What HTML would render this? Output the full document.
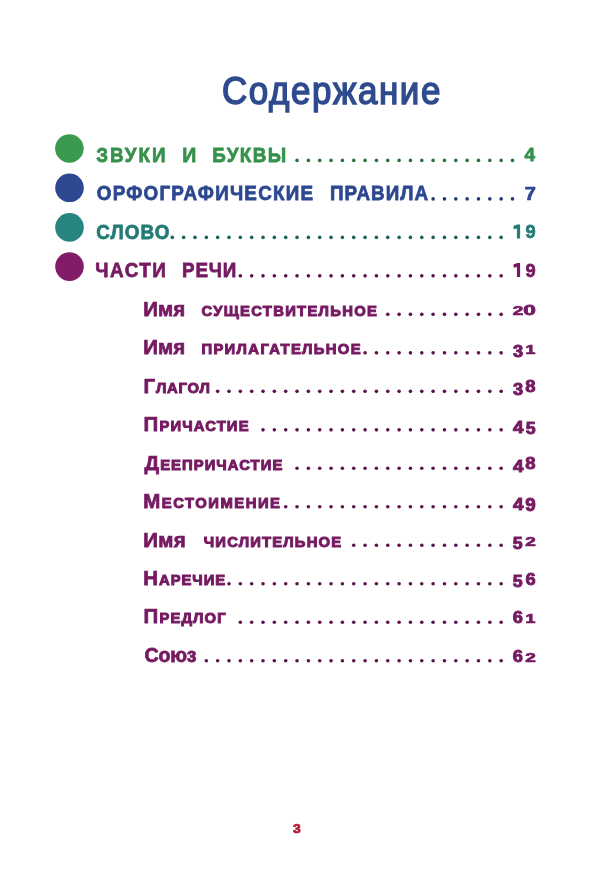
<!DOCTYPE html>
<html><head><meta charset="utf-8"><title>Содержание</title>
<style>html,body{margin:0;padding:0;background:#fff;}body{width:600px;height:882px;position:relative;overflow:hidden;font-family:"Liberation Sans",sans-serif;}</style>
</head><body>
<svg width="600" height="882" viewBox="0 0 600 882" style="position:absolute;left:0;top:0;will-change:transform"><text transform="translate(222,104) scale(0.92,1)" x="0" y="0" font-family="Liberation Sans" font-size="38" letter-spacing="1.7" fill="#2e4b8e" stroke="#2e4b8e" stroke-width="1.5">Содержание</text><circle cx="69.4" cy="148.5" r="14.3" fill="#3a9a50"/><circle cx="69.5" cy="187.8" r="14.3" fill="#2d4890"/><circle cx="69.5" cy="227.4" r="14.3" fill="#27847f"/><circle cx="69.5" cy="266.6" r="14.3" fill="#821c68"/><text transform="translate(96.30,161.60) scale(0.9200,1)" letter-spacing="2.087" fill="#35914b" stroke="#35914b" stroke-width="0.75" font-family="Liberation Sans" font-weight="bold"><tspan font-size="20.5">ЗВУКИ</tspan></text><text transform="translate(182.35,161.60) scale(0.9538,1)" letter-spacing="0.000" fill="#35914b" stroke="#35914b" stroke-width="0.75" font-family="Liberation Sans" font-weight="bold"><tspan font-size="20.5">И</tspan></text><text transform="translate(212.28,161.60) scale(0.9200,1)" letter-spacing="1.511" fill="#35914b" stroke="#35914b" stroke-width="0.75" font-family="Liberation Sans" font-weight="bold"><tspan font-size="20.5">БУКВЫ</tspan></text><text transform="translate(96.80,200.09) scale(0.9200,1)" letter-spacing="1.326" fill="#2d4890" stroke="#2d4890" stroke-width="0.75" font-family="Liberation Sans" font-weight="bold"><tspan font-size="20.5">ОРФОГРАФИЧЕСКИЕ</tspan></text><text transform="translate(329.98,200.09) scale(0.9200,1)" letter-spacing="1.091" fill="#2d4890" stroke="#2d4890" stroke-width="0.75" font-family="Liberation Sans" font-weight="bold"><tspan font-size="20.5">ПРАВИЛА</tspan></text><text transform="translate(96.20,238.58) scale(0.9200,1)" letter-spacing="1.201" fill="#237c76" stroke="#237c76" stroke-width="0.75" font-family="Liberation Sans" font-weight="bold"><tspan font-size="20.5">СЛОВО</tspan></text><text transform="translate(95.28,277.07) scale(0.9200,1)" letter-spacing="1.614" fill="#751a62" stroke="#751a62" stroke-width="0.75" font-family="Liberation Sans" font-weight="bold"><tspan font-size="20.5">ЧАСТИ</tspan></text><text transform="translate(182.08,277.07) scale(0.9200,1)" letter-spacing="0.870" fill="#751a62" stroke="#751a62" stroke-width="0.75" font-family="Liberation Sans" font-weight="bold"><tspan font-size="20.5">РЕЧИ</tspan></text><text transform="translate(143.30,315.56) scale(1.0000,1)" letter-spacing="0.000" fill="#751a62" stroke="#751a62" stroke-width="0.75" font-family="Liberation Sans" font-weight="bold"><tspan font-size="20.5">Имя</tspan></text><text transform="translate(201.40,315.56) scale(1.0000,1)" letter-spacing="1.293" fill="#751a62" stroke="#751a62" stroke-width="0.75" font-family="Liberation Sans" font-weight="bold"><tspan font-size="14.8" stroke-width="1.0">СУЩЕСТВИТЕЛЬНОЕ</tspan></text><text transform="translate(143.30,354.05) scale(1.0000,1)" letter-spacing="0.000" fill="#751a62" stroke="#751a62" stroke-width="0.75" font-family="Liberation Sans" font-weight="bold"><tspan font-size="20.5">Имя</tspan></text><text transform="translate(201.40,354.05) scale(1.0000,1)" letter-spacing="1.354" fill="#751a62" stroke="#751a62" stroke-width="0.75" font-family="Liberation Sans" font-weight="bold"><tspan font-size="14.8" stroke-width="1.0">ПРИЛАГАТЕЛЬНОЕ</tspan></text><text transform="translate(143.50,392.54) scale(1.0000,1)" letter-spacing="0.780" fill="#751a62" stroke="#751a62" stroke-width="0.75" font-family="Liberation Sans" font-weight="bold"><tspan font-size="20.5">Г</tspan><tspan font-size="14.8" stroke-width="1.0">ЛАГОЛ</tspan></text><text transform="translate(143.50,431.03) scale(1.0000,1)" letter-spacing="1.150" fill="#751a62" stroke="#751a62" stroke-width="0.75" font-family="Liberation Sans" font-weight="bold"><tspan font-size="20.5">П</tspan><tspan font-size="14.8" stroke-width="1.0">РИЧАСТИЕ</tspan></text><text transform="translate(144.50,469.52) scale(1.0000,1)" letter-spacing="1.064" fill="#751a62" stroke="#751a62" stroke-width="0.75" font-family="Liberation Sans" font-weight="bold"><tspan font-size="20.5">Д</tspan><tspan font-size="14.8" stroke-width="1.0">ЕЕПРИЧАСТИЕ</tspan></text><text transform="translate(143.20,508.01) scale(1.0000,1)" letter-spacing="1.530" fill="#751a62" stroke="#751a62" stroke-width="0.75" font-family="Liberation Sans" font-weight="bold"><tspan font-size="20.5">М</tspan><tspan font-size="14.8" stroke-width="1.0">ЕСТОИМЕНИЕ</tspan></text><text transform="translate(143.30,546.50) scale(1.0000,1)" letter-spacing="0.250" fill="#751a62" stroke="#751a62" stroke-width="0.75" font-family="Liberation Sans" font-weight="bold"><tspan font-size="20.5">Имя</tspan></text><text transform="translate(203.75,546.50) scale(1.0000,1)" letter-spacing="1.177" fill="#751a62" stroke="#751a62" stroke-width="0.75" font-family="Liberation Sans" font-weight="bold"><tspan font-size="14.8" stroke-width="1.0">ЧИСЛИТЕЛЬНОЕ</tspan></text><text transform="translate(143.20,584.99) scale(1.0000,1)" letter-spacing="0.967" fill="#751a62" stroke="#751a62" stroke-width="0.75" font-family="Liberation Sans" font-weight="bold"><tspan font-size="20.5">Н</tspan><tspan font-size="14.8" stroke-width="1.0">АРЕЧИЕ</tspan></text><text transform="translate(143.50,623.48) scale(1.0000,1)" letter-spacing="1.133" fill="#751a62" stroke="#751a62" stroke-width="0.75" font-family="Liberation Sans" font-weight="bold"><tspan font-size="20.5">П</tspan><tspan font-size="14.8" stroke-width="1.0">РЕДЛОГ</tspan></text><text transform="translate(144.50,661.97) scale(0.9600,1)" letter-spacing="-0.278" fill="#751a62" stroke="#751a62" stroke-width="0.75" font-family="Liberation Sans" font-weight="bold"><tspan font-size="20.5">Союз</tspan></text><circle cx="297.04" cy="160.40" r="1.8" fill="#2a743c"/><circle cx="308.38" cy="160.40" r="1.8" fill="#2a743c"/><circle cx="319.72" cy="160.40" r="1.8" fill="#2a743c"/><circle cx="331.06" cy="160.40" r="1.8" fill="#2a743c"/><circle cx="342.40" cy="160.40" r="1.8" fill="#2a743c"/><circle cx="353.74" cy="160.40" r="1.8" fill="#2a743c"/><circle cx="365.08" cy="160.40" r="1.8" fill="#2a743c"/><circle cx="376.42" cy="160.40" r="1.8" fill="#2a743c"/><circle cx="387.76" cy="160.40" r="1.8" fill="#2a743c"/><circle cx="399.10" cy="160.40" r="1.8" fill="#2a743c"/><circle cx="410.44" cy="160.40" r="1.8" fill="#2a743c"/><circle cx="421.78" cy="160.40" r="1.8" fill="#2a743c"/><circle cx="433.12" cy="160.40" r="1.8" fill="#2a743c"/><circle cx="444.46" cy="160.40" r="1.8" fill="#2a743c"/><circle cx="455.80" cy="160.40" r="1.8" fill="#2a743c"/><circle cx="467.14" cy="160.40" r="1.8" fill="#2a743c"/><circle cx="478.48" cy="160.40" r="1.8" fill="#2a743c"/><circle cx="489.82" cy="160.40" r="1.8" fill="#2a743c"/><circle cx="501.16" cy="160.40" r="1.8" fill="#2a743c"/><circle cx="512.50" cy="160.40" r="1.8" fill="#2a743c"/><text transform="translate(524.60,160.92) scale(0.947,0.944)" font-size="20" fill="#35914b" stroke="#35914b" stroke-width="0.8" font-family="Liberation Sans" font-weight="bold">4</text><circle cx="433.12" cy="198.89" r="1.8" fill="#243973"/><circle cx="444.46" cy="198.89" r="1.8" fill="#243973"/><circle cx="455.80" cy="198.89" r="1.8" fill="#243973"/><circle cx="467.14" cy="198.89" r="1.8" fill="#243973"/><circle cx="478.48" cy="198.89" r="1.8" fill="#243973"/><circle cx="489.82" cy="198.89" r="1.8" fill="#243973"/><circle cx="501.16" cy="198.89" r="1.8" fill="#243973"/><circle cx="512.50" cy="198.89" r="1.8" fill="#243973"/><text transform="translate(524.80,199.51) scale(1.000,0.917)" font-size="20" fill="#2d4890" stroke="#2d4890" stroke-width="0.8" font-family="Liberation Sans" font-weight="bold">7</text><circle cx="172.30" cy="237.38" r="1.8" fill="#1c635e"/><circle cx="183.64" cy="237.38" r="1.8" fill="#1c635e"/><circle cx="194.98" cy="237.38" r="1.8" fill="#1c635e"/><circle cx="206.32" cy="237.38" r="1.8" fill="#1c635e"/><circle cx="217.66" cy="237.38" r="1.8" fill="#1c635e"/><circle cx="229.00" cy="237.38" r="1.8" fill="#1c635e"/><circle cx="240.34" cy="237.38" r="1.8" fill="#1c635e"/><circle cx="251.68" cy="237.38" r="1.8" fill="#1c635e"/><circle cx="263.02" cy="237.38" r="1.8" fill="#1c635e"/><circle cx="274.36" cy="237.38" r="1.8" fill="#1c635e"/><circle cx="285.70" cy="237.38" r="1.8" fill="#1c635e"/><circle cx="297.04" cy="237.38" r="1.8" fill="#1c635e"/><circle cx="308.38" cy="237.38" r="1.8" fill="#1c635e"/><circle cx="319.72" cy="237.38" r="1.8" fill="#1c635e"/><circle cx="331.06" cy="237.38" r="1.8" fill="#1c635e"/><circle cx="342.40" cy="237.38" r="1.8" fill="#1c635e"/><circle cx="353.74" cy="237.38" r="1.8" fill="#1c635e"/><circle cx="365.08" cy="237.38" r="1.8" fill="#1c635e"/><circle cx="376.42" cy="237.38" r="1.8" fill="#1c635e"/><circle cx="387.76" cy="237.38" r="1.8" fill="#1c635e"/><circle cx="399.10" cy="237.38" r="1.8" fill="#1c635e"/><circle cx="410.44" cy="237.38" r="1.8" fill="#1c635e"/><circle cx="421.78" cy="237.38" r="1.8" fill="#1c635e"/><circle cx="433.12" cy="237.38" r="1.8" fill="#1c635e"/><circle cx="444.46" cy="237.38" r="1.8" fill="#1c635e"/><circle cx="455.80" cy="237.38" r="1.8" fill="#1c635e"/><circle cx="467.14" cy="237.38" r="1.8" fill="#1c635e"/><circle cx="478.48" cy="237.38" r="1.8" fill="#1c635e"/><circle cx="489.82" cy="237.38" r="1.8" fill="#1c635e"/><circle cx="501.16" cy="237.38" r="1.8" fill="#1c635e"/><path d="M513.40,225.98 L517.20,224.58 L520.10,224.58 L520.10,238.58 L516.90,238.58 L516.90,228.48 L513.70,229.18 Z" fill="#237c76"/><text transform="translate(525.53,238.20) scale(0.913,0.953)" font-size="20" fill="#237c76" stroke="#237c76" stroke-width="0.8" font-family="Liberation Sans" font-weight="bold">9</text><circle cx="240.34" cy="275.87" r="1.8" fill="#5d144e"/><circle cx="251.68" cy="275.87" r="1.8" fill="#5d144e"/><circle cx="263.02" cy="275.87" r="1.8" fill="#5d144e"/><circle cx="274.36" cy="275.87" r="1.8" fill="#5d144e"/><circle cx="285.70" cy="275.87" r="1.8" fill="#5d144e"/><circle cx="297.04" cy="275.87" r="1.8" fill="#5d144e"/><circle cx="308.38" cy="275.87" r="1.8" fill="#5d144e"/><circle cx="319.72" cy="275.87" r="1.8" fill="#5d144e"/><circle cx="331.06" cy="275.87" r="1.8" fill="#5d144e"/><circle cx="342.40" cy="275.87" r="1.8" fill="#5d144e"/><circle cx="353.74" cy="275.87" r="1.8" fill="#5d144e"/><circle cx="365.08" cy="275.87" r="1.8" fill="#5d144e"/><circle cx="376.42" cy="275.87" r="1.8" fill="#5d144e"/><circle cx="387.76" cy="275.87" r="1.8" fill="#5d144e"/><circle cx="399.10" cy="275.87" r="1.8" fill="#5d144e"/><circle cx="410.44" cy="275.87" r="1.8" fill="#5d144e"/><circle cx="421.78" cy="275.87" r="1.8" fill="#5d144e"/><circle cx="433.12" cy="275.87" r="1.8" fill="#5d144e"/><circle cx="444.46" cy="275.87" r="1.8" fill="#5d144e"/><circle cx="455.80" cy="275.87" r="1.8" fill="#5d144e"/><circle cx="467.14" cy="275.87" r="1.8" fill="#5d144e"/><circle cx="478.48" cy="275.87" r="1.8" fill="#5d144e"/><circle cx="489.82" cy="275.87" r="1.8" fill="#5d144e"/><circle cx="501.16" cy="275.87" r="1.8" fill="#5d144e"/><path d="M513.40,264.47 L517.20,263.07 L520.10,263.07 L520.10,277.07 L516.90,277.07 L516.90,266.97 L513.70,267.67 Z" fill="#751a62"/><text transform="translate(525.53,276.69) scale(0.913,0.953)" font-size="20" fill="#751a62" stroke="#751a62" stroke-width="0.8" font-family="Liberation Sans" font-weight="bold">9</text><circle cx="387.76" cy="314.36" r="1.8" fill="#5d144e"/><circle cx="399.10" cy="314.36" r="1.8" fill="#5d144e"/><circle cx="410.44" cy="314.36" r="1.8" fill="#5d144e"/><circle cx="421.78" cy="314.36" r="1.8" fill="#5d144e"/><circle cx="433.12" cy="314.36" r="1.8" fill="#5d144e"/><circle cx="444.46" cy="314.36" r="1.8" fill="#5d144e"/><circle cx="455.80" cy="314.36" r="1.8" fill="#5d144e"/><circle cx="467.14" cy="314.36" r="1.8" fill="#5d144e"/><circle cx="478.48" cy="314.36" r="1.8" fill="#5d144e"/><circle cx="489.82" cy="314.36" r="1.8" fill="#5d144e"/><circle cx="501.16" cy="314.36" r="1.8" fill="#5d144e"/><text transform="translate(512.72,315.46) scale(0.951,0.651)" font-size="20" fill="#751a62" stroke="#751a62" stroke-width="1.1" font-family="Liberation Sans" font-weight="bold">2</text><text transform="translate(523.34,315.22) scale(1.129,0.689)" font-size="20" fill="#751a62" stroke="#751a62" stroke-width="1.1" font-family="Liberation Sans" font-weight="bold">0</text><circle cx="365.08" cy="352.85" r="1.8" fill="#5d144e"/><circle cx="376.42" cy="352.85" r="1.8" fill="#5d144e"/><circle cx="387.76" cy="352.85" r="1.8" fill="#5d144e"/><circle cx="399.10" cy="352.85" r="1.8" fill="#5d144e"/><circle cx="410.44" cy="352.85" r="1.8" fill="#5d144e"/><circle cx="421.78" cy="352.85" r="1.8" fill="#5d144e"/><circle cx="433.12" cy="352.85" r="1.8" fill="#5d144e"/><circle cx="444.46" cy="352.85" r="1.8" fill="#5d144e"/><circle cx="455.80" cy="352.85" r="1.8" fill="#5d144e"/><circle cx="467.14" cy="352.85" r="1.8" fill="#5d144e"/><circle cx="478.48" cy="352.85" r="1.8" fill="#5d144e"/><circle cx="489.82" cy="352.85" r="1.8" fill="#5d144e"/><circle cx="501.16" cy="352.85" r="1.8" fill="#5d144e"/><text transform="translate(513.01,356.53) scale(0.915,0.838)" font-size="20" fill="#751a62" stroke="#751a62" stroke-width="1.1" font-family="Liberation Sans" font-weight="bold">3</text><text transform="translate(525.61,353.75) scale(0.889,0.653)" font-size="20" fill="#751a62" stroke="#751a62" stroke-width="1.1" font-family="Liberation Sans" font-weight="bold">1</text><circle cx="217.66" cy="391.34" r="1.8" fill="#5d144e"/><circle cx="229.00" cy="391.34" r="1.8" fill="#5d144e"/><circle cx="240.34" cy="391.34" r="1.8" fill="#5d144e"/><circle cx="251.68" cy="391.34" r="1.8" fill="#5d144e"/><circle cx="263.02" cy="391.34" r="1.8" fill="#5d144e"/><circle cx="274.36" cy="391.34" r="1.8" fill="#5d144e"/><circle cx="285.70" cy="391.34" r="1.8" fill="#5d144e"/><circle cx="297.04" cy="391.34" r="1.8" fill="#5d144e"/><circle cx="308.38" cy="391.34" r="1.8" fill="#5d144e"/><circle cx="319.72" cy="391.34" r="1.8" fill="#5d144e"/><circle cx="331.06" cy="391.34" r="1.8" fill="#5d144e"/><circle cx="342.40" cy="391.34" r="1.8" fill="#5d144e"/><circle cx="353.74" cy="391.34" r="1.8" fill="#5d144e"/><circle cx="365.08" cy="391.34" r="1.8" fill="#5d144e"/><circle cx="376.42" cy="391.34" r="1.8" fill="#5d144e"/><circle cx="387.76" cy="391.34" r="1.8" fill="#5d144e"/><circle cx="399.10" cy="391.34" r="1.8" fill="#5d144e"/><circle cx="410.44" cy="391.34" r="1.8" fill="#5d144e"/><circle cx="421.78" cy="391.34" r="1.8" fill="#5d144e"/><circle cx="433.12" cy="391.34" r="1.8" fill="#5d144e"/><circle cx="444.46" cy="391.34" r="1.8" fill="#5d144e"/><circle cx="455.80" cy="391.34" r="1.8" fill="#5d144e"/><circle cx="467.14" cy="391.34" r="1.8" fill="#5d144e"/><circle cx="478.48" cy="391.34" r="1.8" fill="#5d144e"/><circle cx="489.82" cy="391.34" r="1.8" fill="#5d144e"/><circle cx="501.16" cy="391.34" r="1.8" fill="#5d144e"/><text transform="translate(513.01,395.02) scale(0.915,0.838)" font-size="20" fill="#751a62" stroke="#751a62" stroke-width="1.1" font-family="Liberation Sans" font-weight="bold">3</text><text transform="translate(525.32,392.01) scale(0.924,0.851)" font-size="20" fill="#751a62" stroke="#751a62" stroke-width="1.1" font-family="Liberation Sans" font-weight="bold">8</text><circle cx="263.02" cy="429.83" r="1.8" fill="#5d144e"/><circle cx="274.36" cy="429.83" r="1.8" fill="#5d144e"/><circle cx="285.70" cy="429.83" r="1.8" fill="#5d144e"/><circle cx="297.04" cy="429.83" r="1.8" fill="#5d144e"/><circle cx="308.38" cy="429.83" r="1.8" fill="#5d144e"/><circle cx="319.72" cy="429.83" r="1.8" fill="#5d144e"/><circle cx="331.06" cy="429.83" r="1.8" fill="#5d144e"/><circle cx="342.40" cy="429.83" r="1.8" fill="#5d144e"/><circle cx="353.74" cy="429.83" r="1.8" fill="#5d144e"/><circle cx="365.08" cy="429.83" r="1.8" fill="#5d144e"/><circle cx="376.42" cy="429.83" r="1.8" fill="#5d144e"/><circle cx="387.76" cy="429.83" r="1.8" fill="#5d144e"/><circle cx="399.10" cy="429.83" r="1.8" fill="#5d144e"/><circle cx="410.44" cy="429.83" r="1.8" fill="#5d144e"/><circle cx="421.78" cy="429.83" r="1.8" fill="#5d144e"/><circle cx="433.12" cy="429.83" r="1.8" fill="#5d144e"/><circle cx="444.46" cy="429.83" r="1.8" fill="#5d144e"/><circle cx="455.80" cy="429.83" r="1.8" fill="#5d144e"/><circle cx="467.14" cy="429.83" r="1.8" fill="#5d144e"/><circle cx="478.48" cy="429.83" r="1.8" fill="#5d144e"/><circle cx="489.82" cy="429.83" r="1.8" fill="#5d144e"/><circle cx="501.16" cy="429.83" r="1.8" fill="#5d144e"/><text transform="translate(513.10,433.27) scale(0.947,0.861)" font-size="20" fill="#751a62" stroke="#751a62" stroke-width="1.1" font-family="Liberation Sans" font-weight="bold">4</text><text transform="translate(525.63,433.51) scale(0.887,0.849)" font-size="20" fill="#751a62" stroke="#751a62" stroke-width="1.1" font-family="Liberation Sans" font-weight="bold">5</text><circle cx="297.04" cy="468.32" r="1.8" fill="#5d144e"/><circle cx="308.38" cy="468.32" r="1.8" fill="#5d144e"/><circle cx="319.72" cy="468.32" r="1.8" fill="#5d144e"/><circle cx="331.06" cy="468.32" r="1.8" fill="#5d144e"/><circle cx="342.40" cy="468.32" r="1.8" fill="#5d144e"/><circle cx="353.74" cy="468.32" r="1.8" fill="#5d144e"/><circle cx="365.08" cy="468.32" r="1.8" fill="#5d144e"/><circle cx="376.42" cy="468.32" r="1.8" fill="#5d144e"/><circle cx="387.76" cy="468.32" r="1.8" fill="#5d144e"/><circle cx="399.10" cy="468.32" r="1.8" fill="#5d144e"/><circle cx="410.44" cy="468.32" r="1.8" fill="#5d144e"/><circle cx="421.78" cy="468.32" r="1.8" fill="#5d144e"/><circle cx="433.12" cy="468.32" r="1.8" fill="#5d144e"/><circle cx="444.46" cy="468.32" r="1.8" fill="#5d144e"/><circle cx="455.80" cy="468.32" r="1.8" fill="#5d144e"/><circle cx="467.14" cy="468.32" r="1.8" fill="#5d144e"/><circle cx="478.48" cy="468.32" r="1.8" fill="#5d144e"/><circle cx="489.82" cy="468.32" r="1.8" fill="#5d144e"/><circle cx="501.16" cy="468.32" r="1.8" fill="#5d144e"/><text transform="translate(513.10,471.76) scale(0.947,0.861)" font-size="20" fill="#751a62" stroke="#751a62" stroke-width="1.1" font-family="Liberation Sans" font-weight="bold">4</text><text transform="translate(525.32,468.99) scale(0.924,0.851)" font-size="20" fill="#751a62" stroke="#751a62" stroke-width="1.1" font-family="Liberation Sans" font-weight="bold">8</text><circle cx="285.70" cy="506.81" r="1.8" fill="#5d144e"/><circle cx="297.04" cy="506.81" r="1.8" fill="#5d144e"/><circle cx="308.38" cy="506.81" r="1.8" fill="#5d144e"/><circle cx="319.72" cy="506.81" r="1.8" fill="#5d144e"/><circle cx="331.06" cy="506.81" r="1.8" fill="#5d144e"/><circle cx="342.40" cy="506.81" r="1.8" fill="#5d144e"/><circle cx="353.74" cy="506.81" r="1.8" fill="#5d144e"/><circle cx="365.08" cy="506.81" r="1.8" fill="#5d144e"/><circle cx="376.42" cy="506.81" r="1.8" fill="#5d144e"/><circle cx="387.76" cy="506.81" r="1.8" fill="#5d144e"/><circle cx="399.10" cy="506.81" r="1.8" fill="#5d144e"/><circle cx="410.44" cy="506.81" r="1.8" fill="#5d144e"/><circle cx="421.78" cy="506.81" r="1.8" fill="#5d144e"/><circle cx="433.12" cy="506.81" r="1.8" fill="#5d144e"/><circle cx="444.46" cy="506.81" r="1.8" fill="#5d144e"/><circle cx="455.80" cy="506.81" r="1.8" fill="#5d144e"/><circle cx="467.14" cy="506.81" r="1.8" fill="#5d144e"/><circle cx="478.48" cy="506.81" r="1.8" fill="#5d144e"/><circle cx="489.82" cy="506.81" r="1.8" fill="#5d144e"/><circle cx="501.16" cy="506.81" r="1.8" fill="#5d144e"/><text transform="translate(513.10,510.25) scale(0.947,0.861)" font-size="20" fill="#751a62" stroke="#751a62" stroke-width="1.1" font-family="Liberation Sans" font-weight="bold">4</text><text transform="translate(525.22,510.57) scale(0.942,0.878)" font-size="20" fill="#751a62" stroke="#751a62" stroke-width="1.1" font-family="Liberation Sans" font-weight="bold">9</text><circle cx="353.74" cy="545.30" r="1.8" fill="#5d144e"/><circle cx="365.08" cy="545.30" r="1.8" fill="#5d144e"/><circle cx="376.42" cy="545.30" r="1.8" fill="#5d144e"/><circle cx="387.76" cy="545.30" r="1.8" fill="#5d144e"/><circle cx="399.10" cy="545.30" r="1.8" fill="#5d144e"/><circle cx="410.44" cy="545.30" r="1.8" fill="#5d144e"/><circle cx="421.78" cy="545.30" r="1.8" fill="#5d144e"/><circle cx="433.12" cy="545.30" r="1.8" fill="#5d144e"/><circle cx="444.46" cy="545.30" r="1.8" fill="#5d144e"/><circle cx="455.80" cy="545.30" r="1.8" fill="#5d144e"/><circle cx="467.14" cy="545.30" r="1.8" fill="#5d144e"/><circle cx="478.48" cy="545.30" r="1.8" fill="#5d144e"/><circle cx="489.82" cy="545.30" r="1.8" fill="#5d144e"/><circle cx="501.16" cy="545.30" r="1.8" fill="#5d144e"/><text transform="translate(512.83,548.98) scale(0.887,0.849)" font-size="20" fill="#751a62" stroke="#751a62" stroke-width="1.1" font-family="Liberation Sans" font-weight="bold">5</text><text transform="translate(525.22,546.40) scale(0.951,0.651)" font-size="20" fill="#751a62" stroke="#751a62" stroke-width="1.1" font-family="Liberation Sans" font-weight="bold">2</text><circle cx="229.00" cy="583.79" r="1.8" fill="#5d144e"/><circle cx="240.34" cy="583.79" r="1.8" fill="#5d144e"/><circle cx="251.68" cy="583.79" r="1.8" fill="#5d144e"/><circle cx="263.02" cy="583.79" r="1.8" fill="#5d144e"/><circle cx="274.36" cy="583.79" r="1.8" fill="#5d144e"/><circle cx="285.70" cy="583.79" r="1.8" fill="#5d144e"/><circle cx="297.04" cy="583.79" r="1.8" fill="#5d144e"/><circle cx="308.38" cy="583.79" r="1.8" fill="#5d144e"/><circle cx="319.72" cy="583.79" r="1.8" fill="#5d144e"/><circle cx="331.06" cy="583.79" r="1.8" fill="#5d144e"/><circle cx="342.40" cy="583.79" r="1.8" fill="#5d144e"/><circle cx="353.74" cy="583.79" r="1.8" fill="#5d144e"/><circle cx="365.08" cy="583.79" r="1.8" fill="#5d144e"/><circle cx="376.42" cy="583.79" r="1.8" fill="#5d144e"/><circle cx="387.76" cy="583.79" r="1.8" fill="#5d144e"/><circle cx="399.10" cy="583.79" r="1.8" fill="#5d144e"/><circle cx="410.44" cy="583.79" r="1.8" fill="#5d144e"/><circle cx="421.78" cy="583.79" r="1.8" fill="#5d144e"/><circle cx="433.12" cy="583.79" r="1.8" fill="#5d144e"/><circle cx="444.46" cy="583.79" r="1.8" fill="#5d144e"/><circle cx="455.80" cy="583.79" r="1.8" fill="#5d144e"/><circle cx="467.14" cy="583.79" r="1.8" fill="#5d144e"/><circle cx="478.48" cy="583.79" r="1.8" fill="#5d144e"/><circle cx="489.82" cy="583.79" r="1.8" fill="#5d144e"/><circle cx="501.16" cy="583.79" r="1.8" fill="#5d144e"/><text transform="translate(512.83,587.47) scale(0.887,0.849)" font-size="20" fill="#751a62" stroke="#751a62" stroke-width="1.1" font-family="Liberation Sans" font-weight="bold">5</text><text transform="translate(525.53,584.52) scale(0.913,0.841)" font-size="20" fill="#751a62" stroke="#751a62" stroke-width="1.1" font-family="Liberation Sans" font-weight="bold">6</text><circle cx="240.34" cy="622.28" r="1.8" fill="#5d144e"/><circle cx="251.68" cy="622.28" r="1.8" fill="#5d144e"/><circle cx="263.02" cy="622.28" r="1.8" fill="#5d144e"/><circle cx="274.36" cy="622.28" r="1.8" fill="#5d144e"/><circle cx="285.70" cy="622.28" r="1.8" fill="#5d144e"/><circle cx="297.04" cy="622.28" r="1.8" fill="#5d144e"/><circle cx="308.38" cy="622.28" r="1.8" fill="#5d144e"/><circle cx="319.72" cy="622.28" r="1.8" fill="#5d144e"/><circle cx="331.06" cy="622.28" r="1.8" fill="#5d144e"/><circle cx="342.40" cy="622.28" r="1.8" fill="#5d144e"/><circle cx="353.74" cy="622.28" r="1.8" fill="#5d144e"/><circle cx="365.08" cy="622.28" r="1.8" fill="#5d144e"/><circle cx="376.42" cy="622.28" r="1.8" fill="#5d144e"/><circle cx="387.76" cy="622.28" r="1.8" fill="#5d144e"/><circle cx="399.10" cy="622.28" r="1.8" fill="#5d144e"/><circle cx="410.44" cy="622.28" r="1.8" fill="#5d144e"/><circle cx="421.78" cy="622.28" r="1.8" fill="#5d144e"/><circle cx="433.12" cy="622.28" r="1.8" fill="#5d144e"/><circle cx="444.46" cy="622.28" r="1.8" fill="#5d144e"/><circle cx="455.80" cy="622.28" r="1.8" fill="#5d144e"/><circle cx="467.14" cy="622.28" r="1.8" fill="#5d144e"/><circle cx="478.48" cy="622.28" r="1.8" fill="#5d144e"/><circle cx="489.82" cy="622.28" r="1.8" fill="#5d144e"/><circle cx="501.16" cy="622.28" r="1.8" fill="#5d144e"/><text transform="translate(512.73,623.01) scale(0.913,0.841)" font-size="20" fill="#751a62" stroke="#751a62" stroke-width="1.1" font-family="Liberation Sans" font-weight="bold">6</text><text transform="translate(525.61,623.18) scale(0.889,0.653)" font-size="20" fill="#751a62" stroke="#751a62" stroke-width="1.1" font-family="Liberation Sans" font-weight="bold">1</text><circle cx="206.32" cy="660.77" r="1.8" fill="#5d144e"/><circle cx="217.66" cy="660.77" r="1.8" fill="#5d144e"/><circle cx="229.00" cy="660.77" r="1.8" fill="#5d144e"/><circle cx="240.34" cy="660.77" r="1.8" fill="#5d144e"/><circle cx="251.68" cy="660.77" r="1.8" fill="#5d144e"/><circle cx="263.02" cy="660.77" r="1.8" fill="#5d144e"/><circle cx="274.36" cy="660.77" r="1.8" fill="#5d144e"/><circle cx="285.70" cy="660.77" r="1.8" fill="#5d144e"/><circle cx="297.04" cy="660.77" r="1.8" fill="#5d144e"/><circle cx="308.38" cy="660.77" r="1.8" fill="#5d144e"/><circle cx="319.72" cy="660.77" r="1.8" fill="#5d144e"/><circle cx="331.06" cy="660.77" r="1.8" fill="#5d144e"/><circle cx="342.40" cy="660.77" r="1.8" fill="#5d144e"/><circle cx="353.74" cy="660.77" r="1.8" fill="#5d144e"/><circle cx="365.08" cy="660.77" r="1.8" fill="#5d144e"/><circle cx="376.42" cy="660.77" r="1.8" fill="#5d144e"/><circle cx="387.76" cy="660.77" r="1.8" fill="#5d144e"/><circle cx="399.10" cy="660.77" r="1.8" fill="#5d144e"/><circle cx="410.44" cy="660.77" r="1.8" fill="#5d144e"/><circle cx="421.78" cy="660.77" r="1.8" fill="#5d144e"/><circle cx="433.12" cy="660.77" r="1.8" fill="#5d144e"/><circle cx="444.46" cy="660.77" r="1.8" fill="#5d144e"/><circle cx="455.80" cy="660.77" r="1.8" fill="#5d144e"/><circle cx="467.14" cy="660.77" r="1.8" fill="#5d144e"/><circle cx="478.48" cy="660.77" r="1.8" fill="#5d144e"/><circle cx="489.82" cy="660.77" r="1.8" fill="#5d144e"/><circle cx="501.16" cy="660.77" r="1.8" fill="#5d144e"/><text transform="translate(512.73,661.50) scale(0.913,0.841)" font-size="20" fill="#751a62" stroke="#751a62" stroke-width="1.1" font-family="Liberation Sans" font-weight="bold">6</text><text transform="translate(525.22,661.87) scale(0.951,0.651)" font-size="20" fill="#751a62" stroke="#751a62" stroke-width="1.1" font-family="Liberation Sans" font-weight="bold">2</text><text transform="translate(292.98,832.62) scale(0.698,0.669)" font-size="20" fill="#b81a33" stroke="#b81a33" stroke-width="1.1" font-family="Liberation Sans" font-weight="bold">3</text></svg>
</body></html>
